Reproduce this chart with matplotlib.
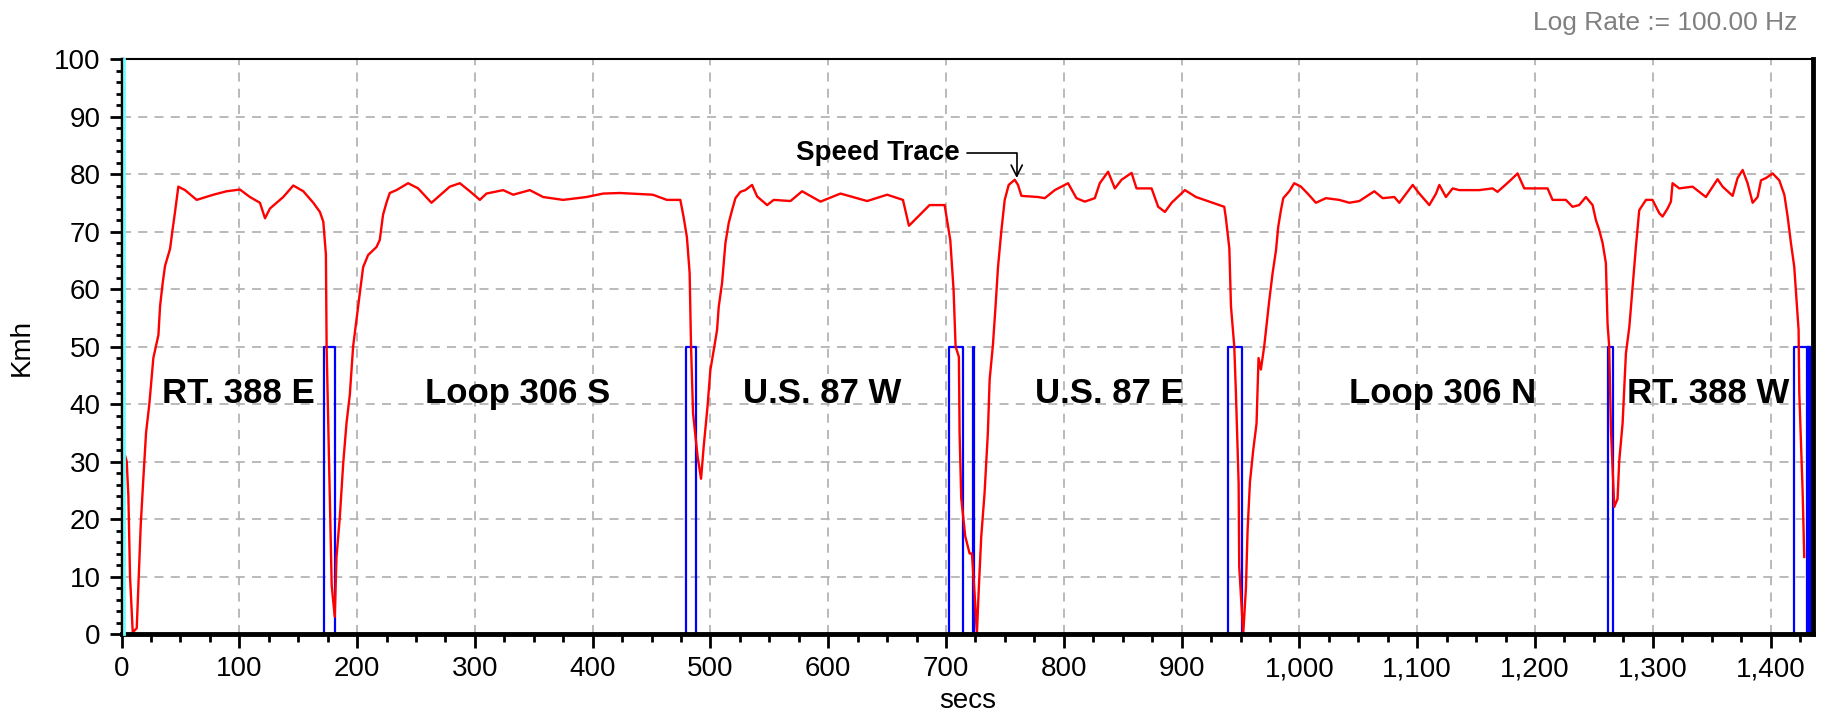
import matplotlib
matplotlib.use("Agg")
import matplotlib.pyplot as plt
import matplotlib.transforms as mtransforms
from matplotlib.ticker import MultipleLocator, FuncFormatter

plt.rcParams['font.family'] = ['Liberation Sans', 'DejaVu Sans']

# speed trace (secs, Kmh)
speed_t = [0.5, 3, 4.4, 5.8, 7.2, 9.5, 12.9, 14.3, 16.3, 18.5, 20.8, 23.6, 27, 31.3, 32.7,
           34.9, 36.9, 41.2, 43.1, 45.4, 48.2, 53.9, 63.8, 77.9, 89.2, 100.5, 109, 117.5,
           121.8, 126, 137.3, 145.8, 154.3, 162.8, 168.4, 171.3, 173.5, 174.1, 176.3, 178.4,
           181, 182.5, 185.3, 188.2, 191, 193.8, 196.6, 199.4, 202.3, 205.1, 209.3, 216.4,
           219.2, 222, 224.9, 227.7, 233.4, 243.3, 251.8, 263.1, 278.7, 287.2, 295.7, 304.2,
           309.8, 324, 332.5, 346.6, 357.9, 374.9, 394.7, 408.9, 423, 451, 463, 474.4, 477.2,
           480, 482.3, 483.5, 485.2, 489.1, 492, 494.2, 497.6, 499.9, 502.8, 505.6, 507,
           509.8, 512.7, 515.5, 518.3, 521.2, 525.4, 529.6, 535.3, 539.6, 548.1, 553.7, 567.9,
           577.8, 593.4, 610.4, 633, 650, 663.4, 668.5, 686, 698.8, 701.6, 703.6, 706.4,
           708.1, 710.9, 711.5, 712.9, 716.3, 720, 722, 724.2, 726.2, 727.6, 729.9, 732.7,
           735.5, 737, 739.8, 741.8, 744.1, 746.9, 749.8, 753.2, 758.3, 761.1, 764, 778.1,
           783.8, 792.3, 803.6, 810.7, 817.8, 826.3, 830.5, 837.6, 843.3, 849, 857.5, 861.7,
           874.5, 880.1, 885.8, 891.5, 902.8, 912.2, 926.3, 936.2, 937.6, 940.5, 941.9, 944.7,
           946.1, 948.4, 948.9, 952.3, 954.6, 956, 958, 960.8, 963.6, 965.3, 967.3, 970.1,
           972.1, 974.4, 977.2, 980.1, 982, 984.3, 986.3, 991.4, 995.6, 1001.3, 1007, 1014,
           1022.5, 1033.8, 1042.4, 1050.9, 1063.6, 1070.7, 1080.6, 1084.8, 1096.2, 1101.8,
           1110.3, 1116, 1118.8, 1124.4, 1130.1, 1135.7, 1152.7, 1164, 1168.2, 1178.1, 1185.2,
           1190.9, 1210.7, 1214.9, 1226.2, 1231.9, 1237.5, 1243.2, 1248.9, 1251.7, 1254.5,
           1257.4, 1260.2, 1261.6, 1263, 1264.5, 1267.3, 1270.1, 1271.5, 1274.4, 1277.2,
           1280.1, 1282.9, 1285.7, 1288.5, 1294.2, 1299.8, 1305.5, 1308.3, 1312.6, 1315.4,
           1316.8, 1322.5, 1333.8, 1345.1, 1350.8, 1355, 1359.3, 1367.8, 1372, 1376.3, 1380.5,
           1384.8, 1389, 1391.9, 1396.1, 1401.8, 1407.4, 1411.7, 1414.5, 1417.3, 1420.1,
           1422.1, 1423.8, 1424.4, 1427.2, 1428.6]
speed_kmh = [32.5, 31, 30, 24, 10, 0.3, 1, 8.5, 19, 27, 35, 40, 48, 52, 57,
             61, 64, 67, 70, 73.4, 77.8, 77.2, 75.5, 76.4, 77, 77.3, 76, 75,
             72.3, 74, 76, 78, 77, 75, 73.4, 71.7, 66, 50, 29, 8.5,
             3, 13.4, 20.3, 29.7, 36.7, 41.6, 50, 54.6, 59.3, 63.8, 65.9, 67.3,
             68.5, 72.9, 75, 76.7, 77.2, 78.4, 77.5, 75, 77.8, 78.4, 77, 75.5,
             76.6, 77.2, 76.4, 77.2, 76, 75.5, 76, 76.6, 76.7, 76.4, 75.5, 75.5, 72.5,
             69, 62.8, 50, 38.4, 30.8, 27, 32.5, 39.8, 45.9, 49.4, 52.9, 56.9,
             61, 68, 71.5, 73.7, 75.8, 76.9, 77.2, 78.1, 76.1, 74.6, 75.5, 75.3,
             77, 75.2, 76.6, 75.3, 76.4, 75.5, 71, 74.6, 74.6, 71, 68.5, 59.8,
             50, 48.2, 34.9, 23.6, 17, 14, 14, 7.1, 0, 7, 17, 24.5,
             35, 44.2, 50.3, 56.3, 63.8, 70, 75.5, 78.1, 79, 78.1, 76.2, 76,
             75.8, 77.2, 78.4, 75.8, 75.2, 75.8, 78.4, 80.4, 77.5, 79, 80.2, 77.5,
             77.5, 74.3, 73.4, 75, 77.2, 76, 75, 74.3, 72.3, 67.1, 57, 50,
             41.9, 26.2, 11.7, 0, 8, 18, 26.4, 32, 36.6, 48, 46, 50,
             53.7, 58, 62.7, 66.7, 70.8, 73.7, 75.8, 77, 78.4, 77.8, 76.6, 75,
             75.8, 75.5, 75, 75.3, 77, 75.8, 76, 75, 78.1, 76.6,
             74.6, 76.6, 78.1, 76, 77.5, 77.2, 77.2, 77.5, 76.9, 78.7, 80.1,
             77.5, 77.5, 75.5, 75.5, 74.3, 74.6, 76, 74.6, 72, 70.3,
             68, 64.5, 54, 50, 35.5, 22.1, 23.5, 30, 36.7, 48.8,
             53.4, 60.4, 67.4, 73.7, 75.5, 75.5, 73.2, 72.6, 74, 75.2,
             78.4, 77.5, 77.8, 76, 77.8, 79.1, 77.8, 76.2, 79.3, 80.7, 78.4,
             75, 76, 78.9, 79.3, 80.1, 78.9, 76.4, 72.6, 68, 63.9,
             58, 52.9, 41.9, 25, 13.4]

# road-change marker pulses (secs on / off), level 50
marker_on = [171.8, 479.6, 702.4, 723.0, 939.2, 1261.6, 1419.5, 1431.0]
marker_off = [181.2, 487.5, 714.3, 724.0, 951.4, 1266.4, 1434.5, 1433.0]
marker_level = 50

# cyan start channel: full-scale line at t=0
start_t = [0, 0]
start_v = [0, 100]

# section labels
sections = ["RT. 388 E", "Loop 306 S", "U.S. 87 W", "U.S. 87 E", "Loop 306 N", "RT. 388 W"]
section_x = [99, 336, 595, 839, 1122, 1347]
section_y = 40.1

xticks = list(range(0, 1401, 100))
yticks = list(range(0, 101, 10))

marker_t, marker_v = [], []
for a, b in zip(marker_on, marker_off):
    marker_t += [a, a, b, b]
    marker_v += [0, marker_level, marker_level, 0]

fig = plt.figure(figsize=(18.25, 7.25), dpi=100)
ax = fig.add_axes([0.0666, 0.1255, 0.9268, 0.7931])

# cyan start marker sits just right of the black left axis
shifted = mtransforms.offset_copy(ax.transData, fig=fig, x=2.5, units='dots')
ax.plot(start_t, start_v, color='#70ffff', lw=2.0, zorder=11, transform=shifted,
        clip_on=False)
ax.plot(marker_t, marker_v, color='#0000ff', lw=1.6, zorder=4)
ax.plot(speed_t, speed_kmh, color='#ff0000', lw=1.7, zorder=5)

for name, x in zip(sections, section_x):
    ax.text(x, section_y, name, ha='center', va='baseline', fontsize=25,
            fontweight='bold', zorder=6)

ax.annotate("Speed Trace", xy=(760, 79.3), xytext=(711.5, 83.6),
            ha='right', va='center', fontsize=20, fontweight='bold',
            arrowprops=dict(arrowstyle='->', color='black', lw=1.2,
                            connectionstyle='angle,angleA=0,angleB=90,rad=0',
                            shrinkA=3, shrinkB=0))

ax.set_xlim(0, 1436)
ax.set_ylim(0, 100)
ax.set_xticks(xticks)
ax.set_yticks(yticks)
ax.xaxis.set_minor_locator(MultipleLocator(25))
ax.yaxis.set_minor_locator(MultipleLocator(2))
ax.xaxis.set_major_formatter(FuncFormatter(lambda v, p: f"{v:,.0f}"))

ax.grid(True, which='major', color='#b4b4b4', linestyle=(0, (5, 4)), lw=1.3)
ax.set_axisbelow(True)

ax.tick_params(axis='x', which='major', length=10, width=2, labelsize=20, pad=6)
ax.tick_params(axis='x', which='minor', length=6, width=2)
ax.tick_params(axis='y', which='major', length=9, width=2, labelsize=20, pad=6)
ax.tick_params(axis='y', which='minor', length=4, width=2, direction='out')

for side, w in [('top', 1.5), ('left', 2.5), ('bottom', 3.5), ('right', 3.5)]:
    ax.spines[side].set_linewidth(w)
    ax.spines[side].set_color('black')
    ax.spines[side].set_zorder(10)

ax.set_xlabel("secs", fontsize=20, labelpad=4)
fig.text(0.012, 0.52, "Kmh", rotation=90, ha='center', va='center', fontsize=20)
fig.text(0.985, 0.9586, "Log Rate := 100.00 Hz", ha='right', va='baseline',
         fontsize=19, color='#808080')

fig.savefig("out.png", dpi=100)
